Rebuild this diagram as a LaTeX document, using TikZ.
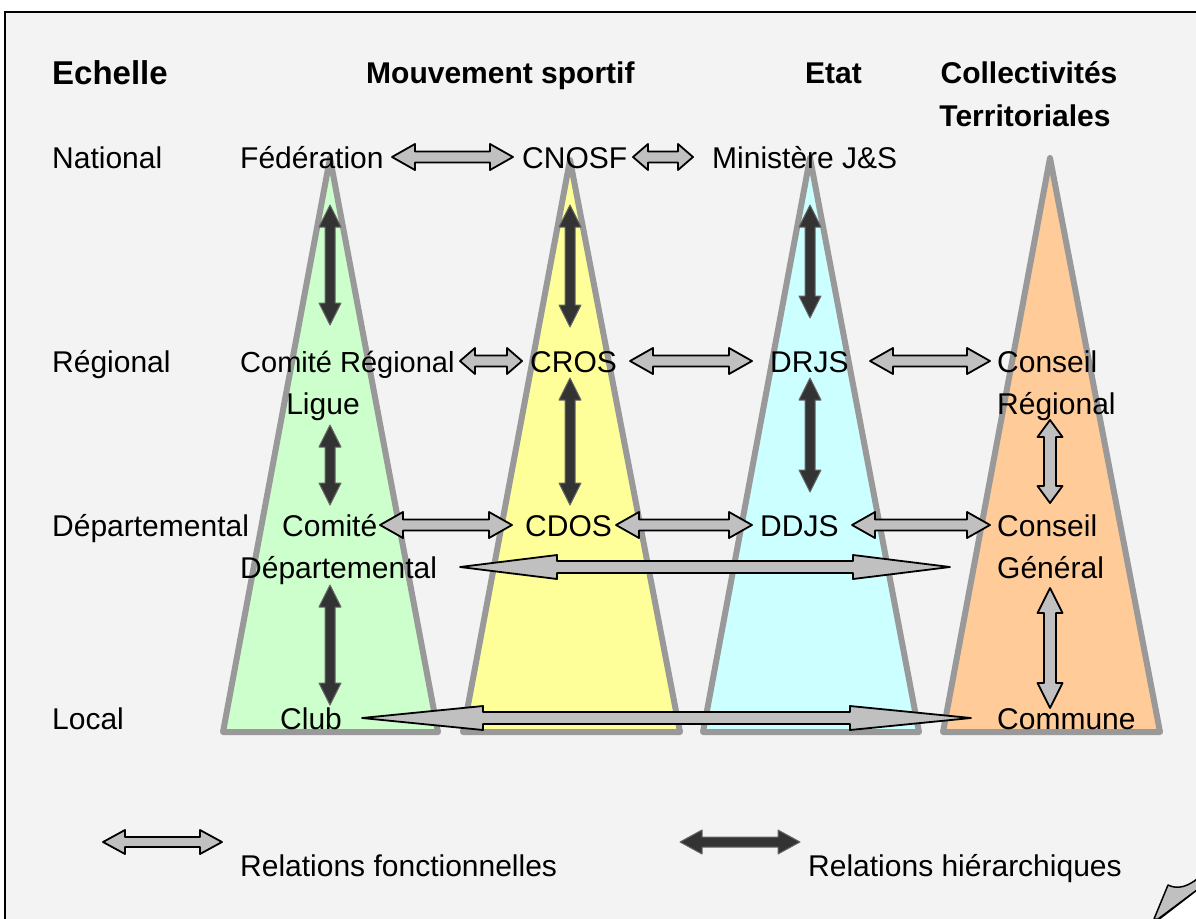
\documentclass[tikz,border=0pt]{standalone}
\usepackage{fontspec}
\setmainfont{Liberation Sans}
\usetikzlibrary{calc}
\definecolor{bg}{HTML}{F3F3F3}
\definecolor{tgreen}{HTML}{CCFFCC}
\definecolor{tyellow}{HTML}{FFFF99}
\definecolor{tcyan}{HTML}{CCFFFF}
\definecolor{torange}{HTML}{FFCC99}
\definecolor{tedge}{HTML}{999999}
\definecolor{fgray}{HTML}{C0C0C0}
\definecolor{hdark}{HTML}{333333}
% horizontal double block arrow: style, left point, right point, head length, head half, shaft half
\newcommand{\hblock}[6]{%
  \path[#1] let \p1=#2, \p2=#3 in
    (\x1,\y1) -- (\x1+#4pt,\y1+#5pt) -- (\x1+#4pt,\y1+#6pt) -- (\x2-#4pt,\y1+#6pt)
    -- (\x2-#4pt,\y1+#5pt) -- (\x2,\y1) -- (\x2-#4pt,\y1-#5pt) -- (\x2-#4pt,\y1-#6pt)
    -- (\x1+#4pt,\y1-#6pt) -- (\x1+#4pt,\y1-#5pt) -- cycle;}
% vertical double block arrow: style, top point, bottom point, head length, head half, shaft half
\newcommand{\vblock}[6]{%
  \path[#1] let \p1=#2, \p2=#3 in
    (\x1,\y1) -- (\x1+#5pt,\y1-#4pt) -- (\x1+#6pt,\y1-#4pt) -- (\x1+#6pt,\y2+#4pt)
    -- (\x1+#5pt,\y2+#4pt) -- (\x1,\y2) -- (\x1-#5pt,\y2+#4pt) -- (\x1-#6pt,\y2+#4pt)
    -- (\x1-#6pt,\y1-#4pt) -- (\x1-#5pt,\y1-#4pt) -- cycle;}
\tikzset{
  tri/.style={draw=tedge, line width=6pt, line join=round},
  func/.style={fill=fgray, draw=black, line width=1.8pt, line join=round},
  hier/.style={fill=hdark, draw=hdark!75!white, line width=1pt, line join=round},
  txt/.style={font=\fontsize{30}{36}\selectfont, inner sep=0pt, anchor=base west},
  head/.style={font=\bfseries\fontsize{30}{36}\selectfont, inner sep=0pt, anchor=base west},
}
\begin{document}
\begin{tikzpicture}[x=1pt,y=-1pt]
\useasboundingbox (0,0) rectangle (1196,918);
\clip (0,0) rectangle (1196,918);
\fill[white] (0,0) rectangle (1196,918);
\draw[fill=bg, line width=1.5pt] (5,12) rectangle (1215,935);

% triangles
\draw[tri, fill=tgreen]  (330,158)  -- (438,732) -- (223,732) -- cycle;
\draw[tri, fill=tyellow] (570,160)  -- (680,732) -- (463,732) -- cycle;
\draw[tri, fill=tcyan]   (810,158)  -- (919,732) -- (703,732) -- cycle;
\draw[tri, fill=torange] (1050,158) -- (1160,732) -- (943,732) -- cycle;

% headings
\node[head, font=\bfseries\fontsize{33}{36}\selectfont] (echelle) at (52,84) {Echelle};
\node[head] (mouv) at (366,83) {Mouvement sportif};
\node[head] (etat) at (805,83) {Etat};
\node[head, anchor=base] (coll) at (1029,83) {Collectivités};
\node[head, anchor=base] (terr) at (1025,126) {Territoriales};

% scale labels
\node[txt] (national) at (52,168) {National};
\node[txt] (regional) at (52,372) {Régional};
\node[txt] (departemental) at (52,536) {Départemental};
\node[txt] (local) at (52,729) {Local};

% row texts
\node[txt] (fed) at (240,168) {Fédération};
\node[txt] (cnosf) at (522,168) {CNOSF};
\node[txt] (min) at (712,168) {Ministère J\&S};

\node[txt, font=\fontsize{29}{36}\selectfont] (comreg) at (240,372) {Comité Régional};
\node[txt, anchor=base] (ligue) at (323,414) {Ligue};
\node[txt] (cros) at (530,372) {CROS};
\node[txt] (drjs) at (770,372) {DRJS};
\node[txt] (conreg1) at (997,372) {Conseil};
\node[txt] (conreg2) at (997,414) {Régional};

\node[txt] (comdep1) at (282,536) {Comité};
\node[txt] (comdep2) at (240,578) {Départemental};
\node[txt] (cdos) at (525,536) {CDOS};
\node[txt] (ddjs) at (760,536) {DDJS};
\node[txt] (congen1) at (997,536) {Conseil};
\node[txt] (congen2) at (997,578) {Général};

\node[txt] (club) at (280,729) {Club};
\node[txt] (commune) at (997,729) {Commune};

% functional arrows
\hblock{func}{(392,157)}{(513,157)}{23}{13}{5.5}
\hblock{func}{(633,157)}{(693,157)}{15}{13}{5.5}
\hblock{func}{(460,361)}{(522,361)}{15}{13}{5.5}
\hblock{func}{(630,361)}{(752,361)}{23}{13}{5.5}
\hblock{func}{(870,361)}{(990,361)}{23}{13}{5.5}
\hblock{func}{(380,525)}{(512,525)}{23}{13}{5.5}
\hblock{func}{(616,525)}{(752,525)}{23}{13}{5.5}
\hblock{func}{(852,525)}{(990,525)}{23}{13}{5.5}
\hblock{func}{(460,567)}{(950,567)}{97}{12}{6}
\hblock{func}{(362,718)}{(971,718)}{121}{12}{6}
\vblock{func}{(1050,420)}{(1050,503)}{17}{12.5}{6}
\vblock{func}{(1050,588)}{(1050,708)}{25}{12.5}{6}

% hierarchical arrows
\vblock{hier}{(330,205)}{(330,325)}{22}{11}{5}
\vblock{hier}{(330,425)}{(330,505)}{22}{11}{5}
\vblock{hier}{(330,585)}{(330,705)}{22}{11}{5}
\vblock{hier}{(570,205)}{(570,327)}{22}{11}{5}
\vblock{hier}{(570,378)}{(570,505)}{22}{11}{5}
\vblock{hier}{(810,205)}{(810,318)}{22}{11}{5}
\vblock{hier}{(810,378)}{(810,492)}{22}{11}{5}

% legend
\hblock{func}{(103,842)}{(222,842)}{22}{12}{5}
\hblock{hier}{(680,842)}{(800,842)}{22}{12}{5}
\node[txt] (lfunc) at (240,876) {Relations fonctionnelles};
\node[txt] (lhier) at (808,876) {Relations hiérarchiques};

% page curl
\draw[fill=fgray, line width=1.5pt, line join=round] (1168,885) .. controls (1178,890) and (1188,886) .. (1197,879) -- (1197,890) -- (1158,919) -- (1154,919) -- cycle;
\draw[fill=white, line width=1.5pt] (1197,890) -- (1197,920) -- (1158,920) -- cycle;
\end{tikzpicture}
\end{document}
